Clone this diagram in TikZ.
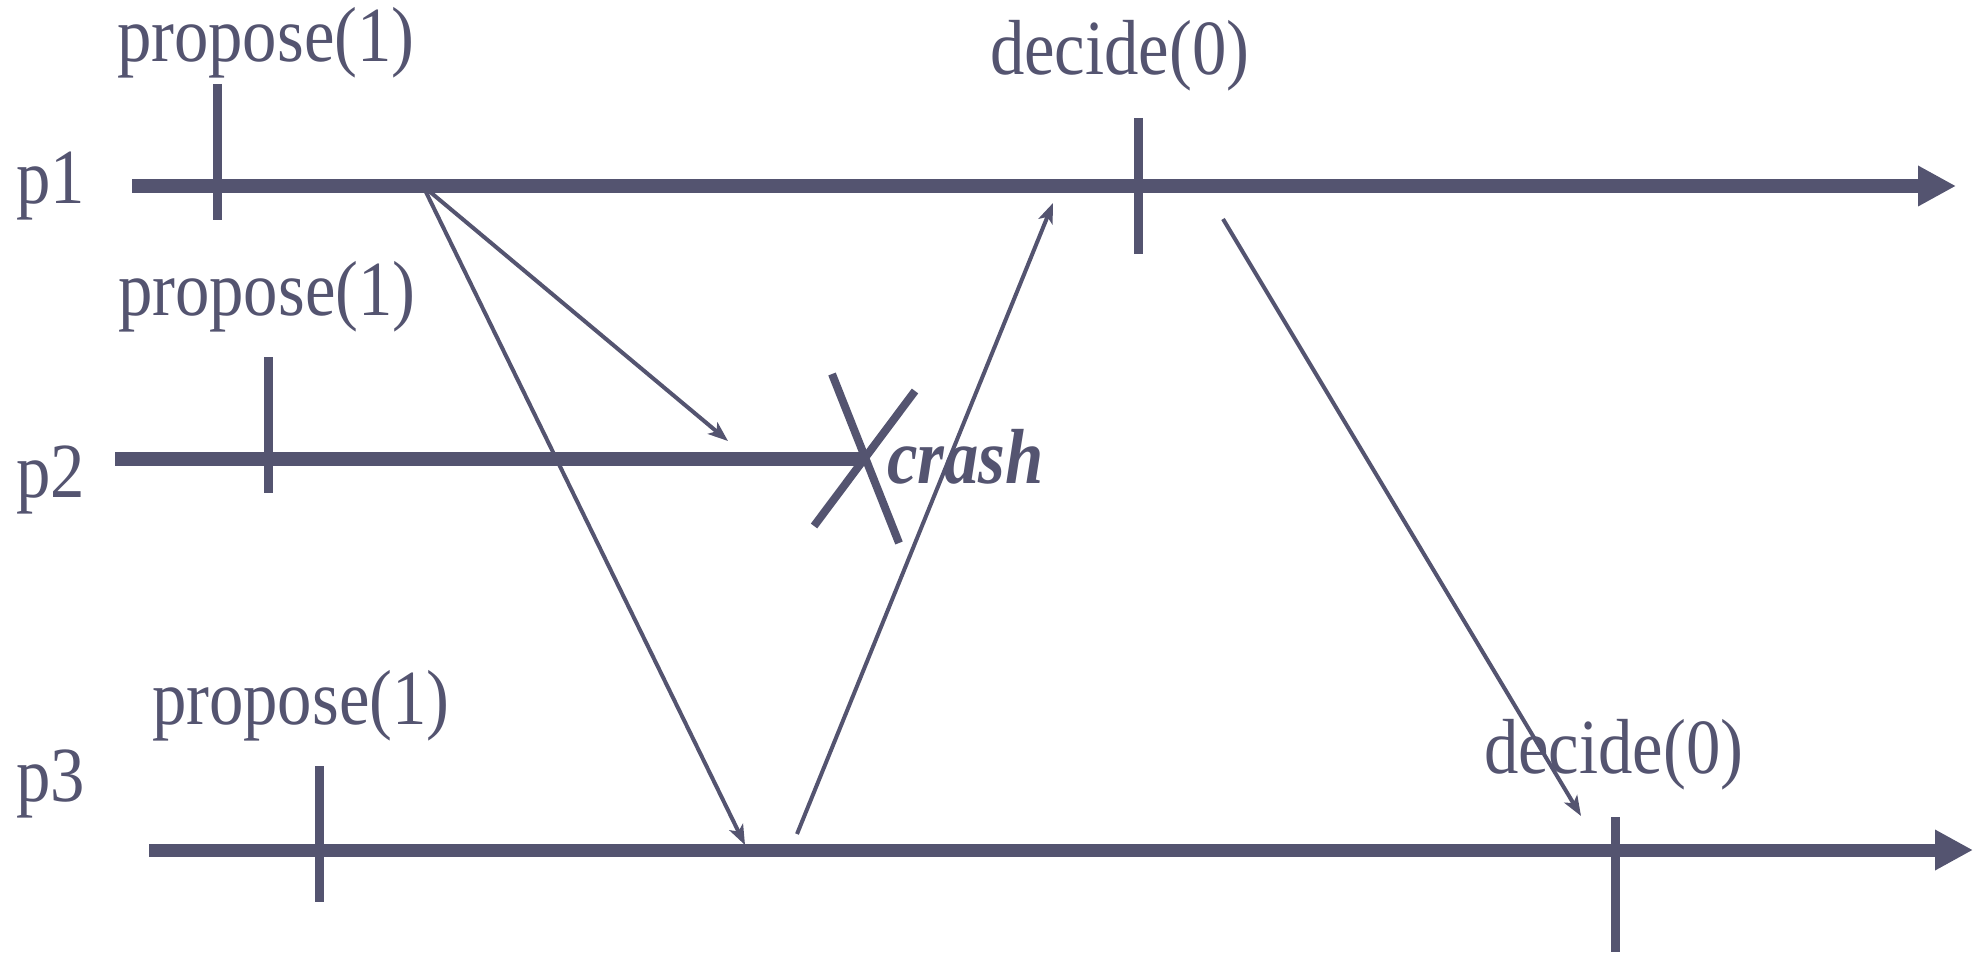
\documentclass[tikz,border=0pt]{standalone}
\usepackage{fontspec}
\setmainfont{Liberation Serif}
\newfontfamily\lblfont{Liberation Serif}[FakeStretch=0.88]
\usetikzlibrary{arrows.meta}
\definecolor{ink}{RGB}{84,84,112}
\begin{document}
\begin{tikzpicture}[x=0.01cm,y=-0.01cm,
  lbl/.style={inner sep=0pt, outer sep=0pt, anchor=base west, text=ink, font=\lblfont\fontsize{22.2pt}{26pt}\selectfont},
  crashlbl/.style={lbl, font=\lblfont\fontsize{22.2pt}{26pt}\selectfont\bfseries\itshape},
  timeline/.style={draw=ink, line width=0.13cm, -{Triangle[length=0.38cm,width=0.38cm]}},
  deadline/.style={draw=ink, line width=0.13cm},
  tick/.style={draw=ink, line width=0.09cm},
  msg/.style={draw=ink, line width=0.04cm, -{Stealth[length=0.2cm,width=0.15cm,inset=0.05cm]}},
  xstroke/.style={draw=ink, line width=0.08cm}
]
\useasboundingbox (0,0) rectangle (1983,952);

% process lines
\coordinate (p1s) at (132,186);
\coordinate (p1e) at (1956,186);
\coordinate (p2s) at (115,459);
\coordinate (crash) at (865,459);
\coordinate (p3s) at (149,850);
\coordinate (p3e) at (1973,850);
\draw[timeline] (p1s) -- (p1e);
\draw[deadline] (p2s) -- (crash);
\draw[timeline] (p3s) -- (p3e);

% labels
\node[lbl] (l1) at (16,204) {p1};
\node[lbl] (l2) at (16,497) {p2};
\node[lbl] (l3) at (16,801) {p3};
\node[lbl] (pr1) at (117,62) {propose(1)};
\node[lbl] (pr2) at (118,315) {propose(1)};
\node[lbl] (pr3) at (152,724) {propose(1)};
\node[lbl] (de1) at (990,75) {decide(0)};
\node[lbl] (de3) at (1484,773) {decide(0)};
\node[crashlbl] (cr) at (887,483) {crash};

% ticks
\coordinate (t1a) at (217,84);  \coordinate (t1b) at (217,220);
\coordinate (t2a) at (268,357); \coordinate (t2b) at (268,493);
\coordinate (t3a) at (319,766); \coordinate (t3b) at (319,902);
\coordinate (d1a) at (1138,118); \coordinate (d1b) at (1138,254);
\coordinate (d3a) at (1615,817); \coordinate (d3b) at (1615,952);
\draw[tick] (t1a) -- (t1b);
\draw[tick] (t2a) -- (t2b);
\draw[tick] (t3a) -- (t3b);
\draw[tick] (d1a) -- (d1b);
\draw[tick] (d3a) -- (d3b);

% crash X
\coordinate (xa1) at (832,374); \coordinate (xa2) at (899,543);
\coordinate (xb1) at (915,391); \coordinate (xb2) at (814,526);
\draw[xstroke] (xa1) -- (xa2);
\draw[xstroke] (xb1) -- (xb2);

% messages
\coordinate (send1) at (423,186);
\coordinate (recv2) at (728,441);
\coordinate (recv3) at (745,845);
\coordinate (send3) at (797,834);
\coordinate (recv1) at (1053,203);
\coordinate (send1b) at (1223,219);
\coordinate (recv3b) at (1581,816);
\draw[msg] (send1) -- (recv2);
\draw[msg] (send1) -- (recv3);
\draw[msg] (send3) -- (recv1);
\draw[msg] (send1b) -- (recv3b);
\end{tikzpicture}
\end{document}
